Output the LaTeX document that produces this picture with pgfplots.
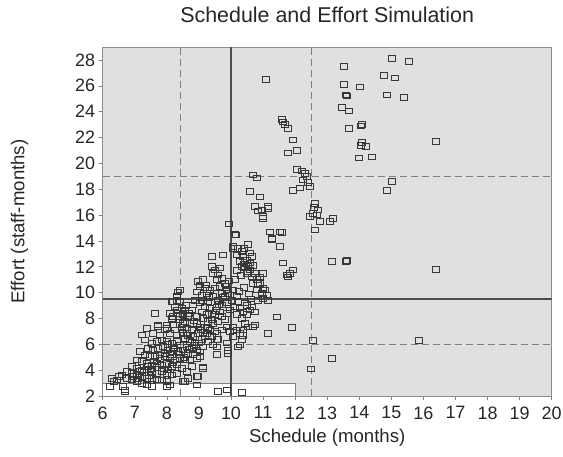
\documentclass[border=0pt]{standalone}
\usepackage{pgfplots}
\pgfplotsset{compat=1.18}
\usepackage{pgfplotstable}
\usepackage{fontspec}
\setmainfont{Liberation Sans}
\pgfplotstableread{
x y
11.08 26.5
11.58 23.4
11.63 23.2
11.68 23.0
11.79 22.7
11.94 21.8
11.79 20.8
12.07 21.0
12.07 19.5
12.2 19.4
12.36 19.0
12.26 18.7
12.41 18.5
12.15 18.1
11.94 17.9
12.46 18.2
12.3 19.2
10.7 19.1
10.8 18.85
10.6 17.8
10.9 17.4
10.75 16.65
10.85 16.3
10.99 15.75
11.16 16.5
11.22 14.7
11.27 14.2
11.58 14.65
11.53 13.55
11.63 12.3
11.84 11.5
11.94 11.75
11.79 11.2
11.74 11.35
9.95 15.3
10.13 14.5
12.62 16.9
12.72 16.4
12.57 16.1
12.46 15.9
12.67 16.0
12.6 16.6
12.78 15.5
12.62 14.85
13.09 15.5
13.19 15.75
13.14 12.4
13.6 12.4
13.62 12.5
11.43 8.1
11.9 7.3
11.16 6.85
12.55 6.3
10.28 5.95
12.5 4.1
13.14 4.9
15.87 6.3
16.39 11.8
16.39 21.7
15.03 18.6
14.86 17.9
13.53 27.5
15.01 28.1
15.55 27.9
13.53 26.1
14.02 25.9
14.77 26.8
15.11 26.6
13.63 25.2
13.6 25.3
14.86 25.3
15.4 25.1
13.45 24.3
13.68 24.05
13.69 22.7
14.05 22.9
14.08 23.0
14.05 21.4
14.2 21.3
14.1 21.6
14.0 20.4
14.39 20.5
10.07 13.56
10.23 13.43
10.33 13.17
10.18 12.9
10.38 12.8
10.49 12.5
10.28 12.4
10.33 12.0
10.44 11.9
10.59 12.3
10.7 12.1
10.54 11.6
10.75 11.5
10.65 11.2
10.8 11.0
10.9 10.7
10.7 10.7
11.0 10.3
10.96 9.95
11.11 9.8
11.16 9.4
11.0 9.55
10.85 9.4
10.59 13.05
11.0 11.5
10.9 11.2
10.85 10.7
10.8 10.2
11.06 10.2
10.44 12.5
10.54 12.1
10.59 11.75
10.49 11.5
10.16 14.45
10.07 13.4
10.96 16.4
11.16 16.65
11.0 15.9
11.27 14.1
11.53 14.7
10.07 10.2
9.92 9.95
10.18 9.7
10.02 9.4
9.87 9.2
10.23 9.3
10.13 8.9
9.97 8.65
10.28 8.8
10.38 8.5
10.18 8.3
10.33 8.0
10.49 8.3
10.59 8.65
10.75 8.5
10.44 7.6
10.54 7.35
10.38 7.1
10.28 6.85
10.07 7.35
10.18 7.1
10.33 6.35
10.07 6.6
10.23 5.8
9.97 7.0
9.81 7.9
9.87 8.4
9.71 8.15
9.87 7.35
10.7 7.35
10.38 6.7
10.75 7.5
9.4 12.8
9.76 12.9
9.4 12.0
9.5 11.75
9.66 11.9
9.45 11.5
9.6 11.35
9.71 11.1
9.55 11.0
9.81 10.7
9.66 10.45
9.87 10.2
9.5 10.35
9.71 9.95
9.81 9.7
9.6 9.4
9.71 9.05
9.45 9.7
9.55 8.9
9.66 8.5
9.5 8.3
9.6 7.75
9.71 7.1
9.55 6.85
9.6 6.35
9.55 5.8
9.87 6.1
9.92 5.3
9.9 5.5
8.98 10.85
9.14 11.0
9.03 10.45
9.19 10.35
8.93 10.05
9.09 9.8
9.24 9.95
9.14 9.4
9.29 9.3
9.03 9.2
9.19 8.9
9.35 8.8
9.09 8.5
9.24 8.3
9.4 8.3
9.14 8.0
9.29 7.75
9.45 7.6
9.19 7.35
9.35 7.1
9.5 7.0
9.24 6.85
9.4 6.6
9.55 6.35
9.45 5.95
9.29 6.2
9.19 6.6
9.55 5.2
9.14 4.25
8.93 3.5
8.57 3.1
8.0 2.7
9.6 2.35
9.87 2.45
10.33 2.25
6.7 2.3
9.03 10.6
8.36 10.05
8.31 9.7
8.2 9.3
8.41 9.3
8.25 8.9
8.46 8.8
8.57 8.65
8.36 8.4
8.51 8.3
8.67 8.15
8.41 7.9
8.57 7.75
8.72 7.6
8.46 7.35
8.62 7.25
8.78 7.1
8.51 6.85
8.67 6.7
8.83 6.6
8.57 6.35
8.72 6.2
8.88 6.1
8.62 5.8
8.78 5.7
8.93 5.55
8.67 5.3
8.83 5.2
8.72 4.8
8.93 4.9
9.03 5.05
8.15 8.0
8.1 8.4
8.78 8.65
8.83 9.05
8.93 8.15
9.03 7.35
8.98 6.85
9.09 6.35
9.14 5.8
9.03 5.4
8.88 9.4
8.41 10.2
8.31 9.4
8.2 8.15
7.53 6.08
7.68 6.2
7.84 6.33
7.99 6.2
8.15 6.08
8.31 6.2
8.41 5.95
7.42 5.69
7.58 5.56
7.73 5.69
7.89 5.82
8.05 5.56
8.2 5.43
8.36 5.43
8.51 5.56
7.16 5.43
7.32 5.17
7.47 5.04
7.63 5.04
7.79 5.17
7.94 5.04
8.1 4.92
8.25 4.79
8.41 4.92
8.57 4.79
7.06 4.79
7.21 4.66
7.37 4.53
7.53 4.4
7.68 4.53
7.84 4.4
7.99 4.53
8.15 4.27
8.31 4.4
8.46 4.14
6.9 4.27
7.06 4.14
7.21 4.01
7.37 4.01
7.53 3.88
7.68 3.75
7.84 3.88
7.99 3.75
8.15 3.63
8.31 3.75
6.75 3.88
6.9 3.75
7.06 3.63
7.21 3.5
7.37 3.37
7.53 3.37
7.68 3.24
7.84 3.24
7.99 3.11
6.59 3.63
6.75 3.37
6.9 3.24
7.06 3.11
7.21 2.98
7.37 2.85
7.53 2.72
6.44 3.24
6.28 3.37
6.23 2.72
7.99 2.72
8.1 2.85
8.51 3.11
8.98 3.5
9.14 4.14
8.62 3.88
8.77 4.27
8.67 3.37
8.93 2.85
7.63 8.4
7.73 7.5
7.99 7.5
8.2 7.5
7.32 6.33
8.15 9.3
8.31 8.66
8.41 8.14
8.51 7.62
8.46 7.1
8.62 6.85
8.57 6.46
8.72 6.33
7.58 6.85
7.79 6.72
7.94 7.1
8.1 6.85
8.31 6.72
7.37 7.24
7.21 6.72
6.64 2.72
6.69 2.46
7.73 7.36
7.99 7.24
8.25 7.1
8.05 6.0
8.22 5.7
8.38 5.2
8.55 5.0
8.7 5.6
8.85 5.9
9.0 6.1
9.12 6.9
9.28 7.2
9.4 7.9
9.52 8.6
9.62 9.1
9.75 9.6
9.85 10.5
9.95 10.9
9.3 9.6
9.22 10.6
9.35 10.2
8.6 9.0
8.7 8.4
8.85 7.8
8.95 7.6
9.08 7.1
7.4 4.3
7.6 4.7
7.8 4.9
7.95 5.3
8.1 5.2
7.3 3.8
7.5 4.1
7.7 4.2
7.9 4.1
8.05 4.0
8.2 4.6
7.15 3.9
6.95 3.5
7.1 3.3
7.45 3.6
6.5 3.5
6.35 3.1
10.4 10.4
10.55 9.9
10.62 9.5
10.25 10.1
10.45 9.2
10.65 8.9
10.5 9.0
10.12 11.0
10.3 11.3
10.2 11.7
10.4 12.2
10.65 12.8
10.4 13.4
10.52 13.7
}\pts
\begin{document}
\begin{tikzpicture}
\useasboundingbox (-102.7bp,-61bp) rectangle (460.3bp,396bp);
\begin{axis}[
  anchor=south west, at={(0,0)},
  scale only axis, width=449bp, height=349bp,
  xmin=6, xmax=20, ymin=2, ymax=29,
  xtick={6,7,...,20}, ytick={2,4,...,28},
  xtick pos=bottom, ytick pos=left,
  tick align=outside, major tick length=4bp,
  tick style={black!50, line width=0.5bp},
  axis line style={black!45, line width=0.9bp},
  axis background/.style={fill=black!12},
  /pgf/number format/assume math mode=true,
  ticklabel style={font=\fontsize{18}{20}\selectfont, text=black!85},
  xticklabel style={yshift=-3bp},
  xlabel={Schedule (months)}, ylabel={Effort (staff-months)},
  label style={font=\fontsize{18.7}{22}\selectfont, text=black!85},
  xlabel style={at={(axis description cs:0.5,-0.12)}, anchor=center},
  ylabel style={at={(axis description cs:-0.185,0.5)}, anchor=center},
  title={Schedule and Effort Simulation},
  title style={at={(axis description cs:0.5,1.075)}, anchor=center, font=\fontsize{21.5}{24}\selectfont, text=black!85},
]
\path[fill=white, draw=black!50, line width=0.7bp] (axis cs:6,2) rectangle (axis cs:12,3);
\draw[black!50, line width=0.9bp, dash pattern=on 7bp off 4bp] (axis cs:8.42,2) -- (axis cs:8.42,29);
\draw[black!50, line width=0.9bp, dash pattern=on 7bp off 4bp] (axis cs:12.5,2) -- (axis cs:12.5,29);
\draw[black!50, line width=0.9bp, dash pattern=on 7bp off 4bp] (axis cs:6,6) -- (axis cs:20,6);
\draw[black!50, line width=0.9bp, dash pattern=on 7bp off 4bp] (axis cs:6,19) -- (axis cs:20,19);
\draw[black!70, line width=1.2bp] (axis cs:10,2) -- (axis cs:10,29);
\draw[black!70, line width=1.2bp] (axis cs:6,9.5) -- (axis cs:20,9.5);
\addplot[only marks, mark=square, mark size=3.5bp, mark options={yscale=0.8, draw=black!78, line width=1bp}] table[x=x,y=y] {\pts};
\end{axis}
\end{tikzpicture}
\end{document}
